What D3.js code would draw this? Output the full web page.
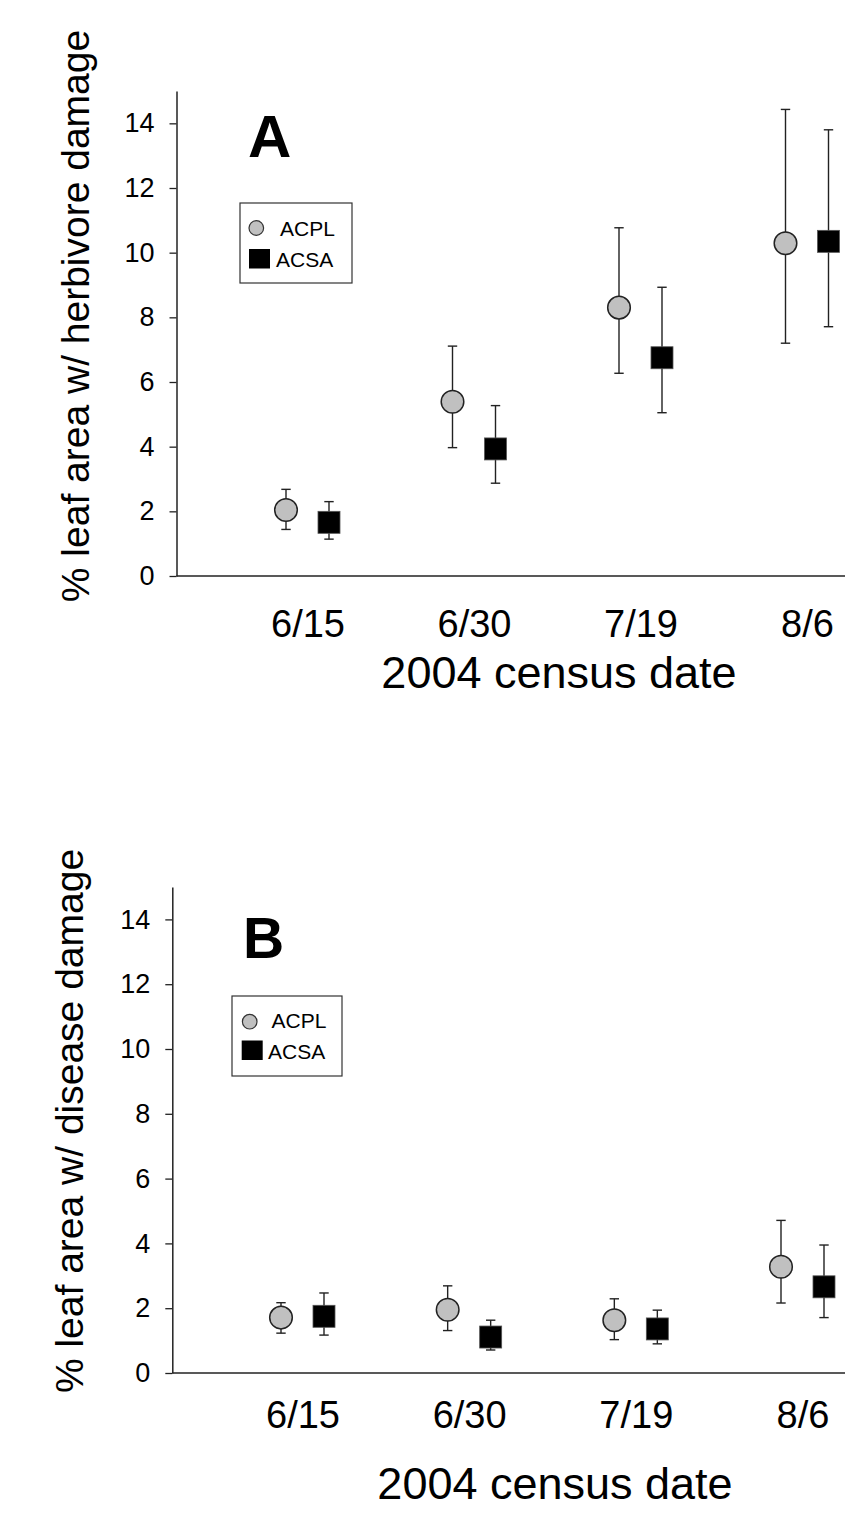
<!DOCTYPE html>
<html>
<head>
<meta charset="utf-8">
<script src="https://cdn.jsdelivr.net/npm/d3@7"></script>
<style>
  body { margin: 0; background: #fff; }
  svg { display: block; font-family: "Liberation Sans", Arial, sans-serif; }
</style>
</head>
<body>
<div id="chart"></div>
<script>
// census dates and species
var dates = ["6/15", "6/30", "7/19", "8/6"];
var species = ["ACPL", "ACSA"];
var yTicks = [0, 2, 4, 6, 8, 10, 12, 14];

// panel A: herbivore damage (mean, lower, upper)
var herbACPL = [2.04, 5.39, 8.30, 10.29];
var herbACPLlo = [1.44, 3.97, 6.27, 7.20];
var herbACPLhi = [2.68, 7.11, 10.77, 14.43];
var herbACSA = [1.66, 3.93, 6.75, 10.35];
var herbACSAlo = [1.14, 2.87, 5.05, 7.71];
var herbACSAhi = [2.30, 5.27, 8.93, 13.80];

// panel B: disease damage (mean, lower, upper)
var disACPL = [1.71, 1.95, 1.63, 3.28];
var disACPLlo = [1.23, 1.31, 1.03, 2.16];
var disACPLhi = [2.17, 2.69, 2.29, 4.71];
var disACSA = [1.75, 1.11, 1.36, 2.66];
var disACSAlo = [1.17, 0.71, 0.90, 1.71];
var disACSAhi = [2.47, 1.63, 1.94, 3.95];

var W = 845, H = 1513;
var svg = d3.select("#chart").append("svg")
    .attr("width", W)
    .attr("height", H);

// layout of each panel
var panels = [
  { letter: "A", letterSize: 60, letterX: 248, letterY: 157,
    ytitle: "% leaf area w/ herbivore damage", ytitleX: 89, ytitleY: 316,
    axisX: 176.5, yTop: 91, yBottom: 576, xFirst: 307.5, xLast: 807,
    labelPad: 34, titleY: 688, titleX: 559,
    legend: { x: 240, y: 203, w: 112, h: 80, cx: 256.3, cy: 228, t1x: 280, t1y: 236,
              sx: 249, sy: 249, t2x: 276, t2y: 266.5 },
    acpl: [herbACPL, herbACPLlo, herbACPLhi], acsa: [herbACSA, herbACSAlo, herbACSAhi] },
  { letter: "B", letterSize: 57, letterX: 243, letterY: 958,
    ytitle: "% leaf area w/ disease damage", ytitleX: 83, ytitleY: 1121,
    axisX: 172.3, yTop: 887, yBottom: 1373, xFirst: 302.5, xLast: 802.5,
    labelPad: 28, titleY: 1499, titleX: 555,
    legend: { x: 232, y: 996, w: 110, h: 80, cx: 249.7, cy: 1021.7, t1x: 271.5, t1y: 1028,
              sx: 241.7, sy: 1040.5, t2x: 268, t2y: 1059 },
    acpl: [disACPL, disACPLlo, disACPLhi], acsa: [disACSA, disACSAlo, disACSAhi] }
];

var offset = 21.5;     // half distance between the two species in a group
var radius = 11.3;
var side = 22;
var cap = 4.7;

panels.forEach(function(p) {
  var g = svg.append("g");

  var x = d3.scalePoint()
    .domain(dates)
    .range([p.xFirst, p.xLast]);
  var y = d3.scaleLinear()
    .domain([0, 15])
    .range([p.yBottom, p.yTop]);

  // y axis
  var yAxis = g.append("g")
    .attr("transform", "translate(" + p.axisX + ",0)")
    .call(d3.axisLeft(y).tickValues(yTicks).tickSizeInner(7).tickSizeOuter(0).tickPadding(15));
  yAxis.select(".domain").attr("stroke", "#222").attr("stroke-width", 1.5);
  yAxis.selectAll(".tick line").attr("stroke", "#222").attr("stroke-width", 1.3);
  yAxis.selectAll(".tick text")
    .attr("font-size", 27)
    .attr("font-family", "Liberation Sans, Arial, sans-serif")
    .attr("fill", "#000");

  // x axis line spans to the right edge
  g.append("line")
    .attr("x1", p.axisX).attr("x2", W)
    .attr("y1", y(0)).attr("y2", y(0))
    .attr("stroke", "#222").attr("stroke-width", 1.5);

  var xAxis = g.append("g")
    .attr("transform", "translate(0," + y(0) + ")")
    .call(d3.axisBottom(x).tickSize(0).tickPadding(p.labelPad));
  xAxis.select(".domain").remove();
  xAxis.selectAll(".tick text")
    .attr("font-size", 38)
    .attr("font-family", "Liberation Sans, Arial, sans-serif")
    .attr("fill", "#000");

  // axis titles
  g.append("text")
    .attr("transform", "translate(" + p.ytitleX + "," + p.ytitleY + ") rotate(-90)")
    .attr("text-anchor", "middle")
    .attr("font-size", 39)
    .text(p.ytitle);

  g.append("text")
    .attr("x", p.titleX)
    .attr("y", p.titleY)
    .attr("text-anchor", "middle")
    .attr("font-size", 45)
    .text("2004 census date");

  // panel letter
  g.append("text")
    .attr("x", p.letterX)
    .attr("y", p.letterY)
    .attr("font-size", p.letterSize)
    .attr("font-weight", "bold")
    .text(p.letter);

  // build rows for both species
  var rows = [];
  dates.forEach(function(d, i) {
    rows.push({ date: d, sp: "ACPL", dx: -offset, m: p.acpl[0][i], lo: p.acpl[1][i], hi: p.acpl[2][i] });
    rows.push({ date: d, sp: "ACSA", dx: offset, m: p.acsa[0][i], lo: p.acsa[1][i], hi: p.acsa[2][i] });
  });

  // error bars
  var bars = g.append("g").attr("stroke", "#222").attr("stroke-width", 1.4);
  bars.selectAll(".whisker")
    .data(rows).enter().append("line")
      .attr("x1", function(d) { return x(d.date) + d.dx; })
      .attr("x2", function(d) { return x(d.date) + d.dx; })
      .attr("y1", function(d) { return y(d.lo); })
      .attr("y2", function(d) { return y(d.hi); });
  bars.selectAll(".capHi")
    .data(rows).enter().append("line")
      .attr("x1", function(d) { return x(d.date) + d.dx - cap; })
      .attr("x2", function(d) { return x(d.date) + d.dx + cap; })
      .attr("y1", function(d) { return y(d.hi); })
      .attr("y2", function(d) { return y(d.hi); });
  bars.selectAll(".capLo")
    .data(rows).enter().append("line")
      .attr("x1", function(d) { return x(d.date) + d.dx - cap; })
      .attr("x2", function(d) { return x(d.date) + d.dx + cap; })
      .attr("y1", function(d) { return y(d.lo); })
      .attr("y2", function(d) { return y(d.lo); });

  // markers
  g.selectAll(".dotACPL")
    .data(rows.filter(function(d) { return d.sp === "ACPL"; }))
    .enter().append("circle")
      .attr("cx", function(d) { return x(d.date) + d.dx; })
      .attr("cy", function(d) { return y(d.m); })
      .attr("r", radius)
      .attr("fill", "#c0c0c0")
      .attr("stroke", "#222")
      .attr("stroke-width", 1.5);
  g.selectAll(".dotACSA")
    .data(rows.filter(function(d) { return d.sp === "ACSA"; }))
    .enter().append("rect")
      .attr("x", function(d) { return x(d.date) + d.dx - side / 2; })
      .attr("y", function(d) { return y(d.m) - side / 2; })
      .attr("width", side)
      .attr("height", side)
      .attr("fill", "#000")
      .attr("stroke", "#555")
      .attr("stroke-width", 0.8);

  // legend
  var L = p.legend;
  var leg = g.append("g");
  leg.append("rect")
    .attr("x", L.x).attr("y", L.y)
    .attr("width", L.w).attr("height", L.h)
    .attr("fill", "#fff").attr("stroke", "#333").attr("stroke-width", 1.2);
  leg.append("circle")
    .attr("cx", L.cx).attr("cy", L.cy).attr("r", 7.3)
    .attr("fill", "#c0c0c0").attr("stroke", "#333").attr("stroke-width", 1.2);
  leg.append("text")
    .attr("x", L.t1x).attr("y", L.t1y)
    .attr("font-size", 21)
    .text(species[0]);
  leg.append("rect")
    .attr("x", L.sx).attr("y", L.sy).attr("width", 21).attr("height", 19.5)
    .attr("fill", "#000");
  leg.append("text")
    .attr("x", L.t2x).attr("y", L.t2y)
    .attr("font-size", 21)
    .text(species[1]);
});
</script>
</body>
</html>
